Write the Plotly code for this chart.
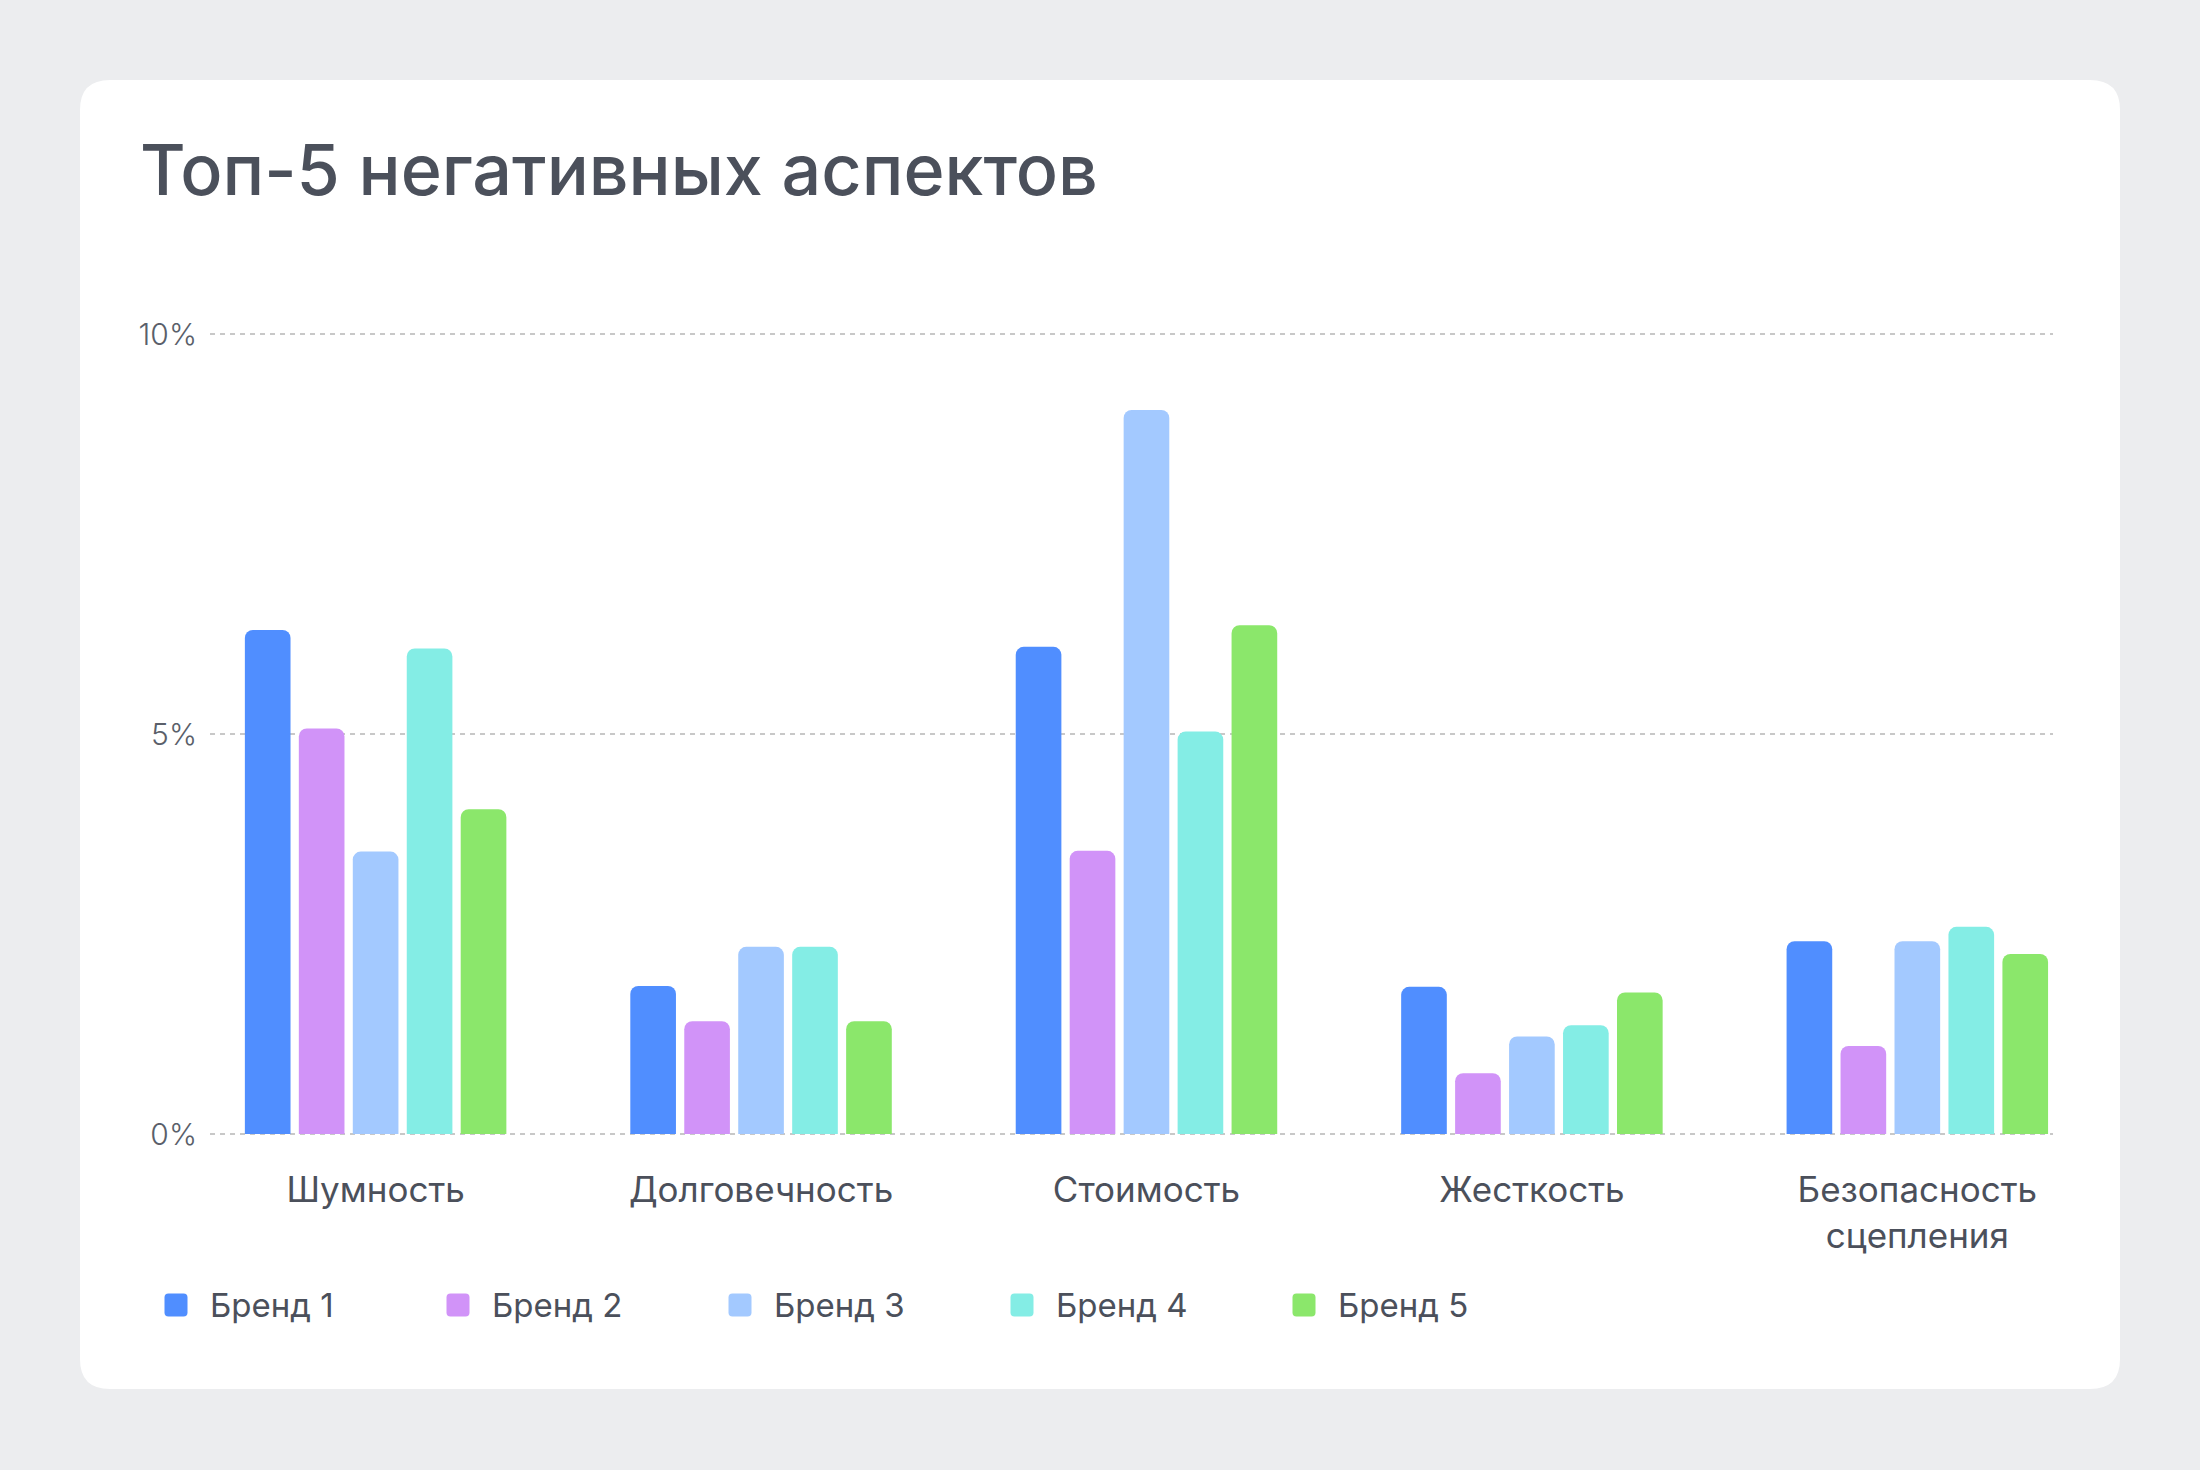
import plotly.graph_objects as go

# ---------------- data ----------------
categories = ["Шумность", "Долговечность", "Стоимость", "Жесткость", "Безопасность<br>сцепления"]
series_names = ["Бренд 1", "Бренд 2", "Бренд 3", "Бренд 4", "Бренд 5"]
brand1 = [6.30, 1.85, 6.09, 1.84, 2.41]
brand2 = [5.07, 1.41, 3.54, 0.76, 1.10]
brand3 = [3.53, 2.34, 9.05, 1.22, 2.41]
brand4 = [6.07, 2.34, 5.03, 1.36, 2.59]
brand5 = [4.06, 1.41, 6.36, 1.77, 2.25]
y_tick_values = [0, 5, 10]
y_tick_labels = ["0%", "5%", "10%"]
title_text = "Топ-5 негативных аспектов"

# ---------------- style ----------------
colors = ["#508EFF", "#D193F8", "#A3C9FF", "#84EDE5", "#8BE76B"]
series_values = [brand1, brand2, brand3, brand4, brand5]
FONT = "Inter"
TEXT = "#4B505B"
TICK = "#5A5F6A"
BG = "#ECEDEF"

W, H = 2200, 1470
ML, MR, MT, MB = 210, 147, 332, 334
PW = W - ML - MR
PH = H - MT - MB
Y_RANGE = [-0.025, 10.025]


def px_x(px):
    return (px - ML) / PW


def px_y(py):
    return (H - MB - py) / PH


def rr_path(hw, hh, r):
    return (f"M{-hw + r},{-hh} L{hw - r},{-hh} Q{hw},{-hh} {hw},{-hh + r} "
            f"L{hw},{hh - r} Q{hw},{hh} {hw - r},{hh} L{-hw + r},{hh} "
            f"Q{-hw},{hh} {-hw},{hh - r} L{-hw},{-hh + r} Q{-hw},{-hh} {-hw + r},{-hh} Z")


fig = go.Figure()
for name, vals, col in zip(series_names, series_values, colors):
    fig.add_trace(go.Bar(
        x=categories, y=vals, name=name,
        marker=dict(color=col, cornerradius=8, line=dict(width=0)),
        showlegend=False,
    ))

shapes = []
# card
shapes.append(dict(
    type="path", xref="paper", yref="paper", xsizemode="pixel", ysizemode="pixel",
    xanchor=px_x(1100), yanchor=px_y(734.5), path=rr_path(1020, 654.5, 30),
    fillcolor="white", line=dict(width=0), layer="below",
))

annotations = []
# title
annotations.append(dict(
    text=title_text, xref="paper", yref="paper", x=px_x(138), y=px_y(170),
    xanchor="left", yanchor="middle", showarrow=False,
    font=dict(family=FONT, size=70, color=TEXT, weight=500),
))

# legend (manual)
LEG_CX0, LEG_STEP, LEG_Y = 176, 282, 1305
for i, (name, col) in enumerate(zip(series_names, colors)):
    cx = LEG_CX0 + i * LEG_STEP
    shapes.append(dict(
        type="path", xref="paper", yref="paper", xsizemode="pixel", ysizemode="pixel",
        xanchor=px_x(cx), yanchor=px_y(LEG_Y), path=rr_path(11.5, 11.5, 4),
        fillcolor=col, line=dict(width=0), layer="above",
    ))
    annotations.append(dict(
        text=name, xref="paper", yref="paper", x=px_x(cx + 32), y=px_y(LEG_Y),
        xanchor="left", yanchor="middle", showarrow=False,
        font=dict(family=FONT, size=33, color=TEXT),
    ))

fig.update_layout(
    width=W, height=H,
    margin=dict(l=ML, r=MR, t=MT, b=MB, pad=0),
    paper_bgcolor=BG, plot_bgcolor="rgba(0,0,0,0)",
    barmode="group", bargap=0.30, bargroupgap=0.154,
    shapes=shapes, annotations=annotations,
    showlegend=False,
    font=dict(family=FONT, color=TEXT),
)
fig.update_xaxes(
    type="category", range=[-0.4297, 4.352], showgrid=False, zeroline=False,
    showline=False, ticks="", ticklabelstandoff=30,
    tickfont=dict(family=FONT, size=35, color=TEXT),
)
fig.update_yaxes(
    range=Y_RANGE, tickvals=y_tick_values, ticktext=y_tick_labels,
    showgrid=True, gridcolor="#C8C8C8", gridwidth=2, griddash="5px,5px",
    zeroline=False, showline=False, ticks="", ticklabelstandoff=12,
    tickfont=dict(family=FONT, size=30, color=TICK, weight=300),
)

fig.write_html("out.html")
